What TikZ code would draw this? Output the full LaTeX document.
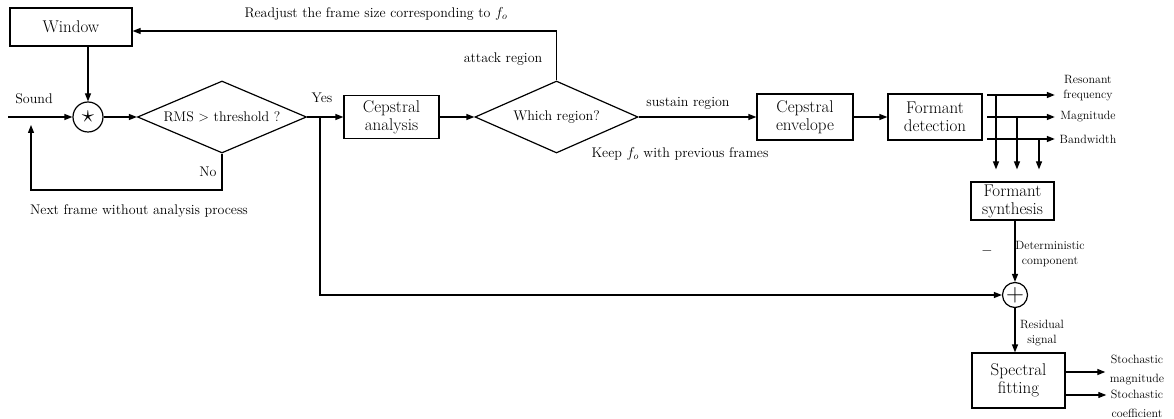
\documentclass[tikz,border=0pt]{standalone}
\usepackage{fontspec}
\usetikzlibrary{shapes.geometric,arrows.meta,calc}
\begin{document}
\begin{tikzpicture}[x=1pt,y=-1pt,line width=1.2pt,
  box/.style={draw,rectangle,inner sep=0pt,align=center,font=\fontsize{17}{18}\selectfont},
  dia/.style={draw,diamond,aspect=2.3,inner sep=0pt,font=\fontsize{14}{16}\selectfont},
  lbl/.style={inner sep=0pt,font=\fontsize{14}{16}\selectfont},
  sml/.style={inner sep=0pt,align=center,font=\fontsize{12}{15}\selectfont},
  sumc/.style={draw,circle,inner sep=0pt},
  arr/.style={-{Triangle[length=8pt,width=6pt]}}]
\useasboundingbox (0,0) rectangle (1174,419);

% blocks
\node[box,minimum width=122pt,minimum height=38pt] (win) at (71,27) {Window};
\node[sumc,minimum size=30pt,font=\fontsize{28}{28}\selectfont] (mult) at (88,117) {$\star$};
\node[dia,minimum width=169pt,minimum height=72pt] (rms) at (222,117) {RMS > threshold ?};
\node[box,minimum width=95pt,minimum height=43pt] (ca) at (391.5,117) {Cepstral\\analysis};
\node[dia,minimum width=163pt,minimum height=72pt] (wr) at (556.5,117) {Which region?};
\node[box,minimum width=96pt,minimum height=46pt] (ce) at (805,117) {Cepstral\\envelope};
\node[box,minimum width=94pt,minimum height=46pt] (fd) at (935,117) {Formant\\detection};
\node[box,minimum width=83pt,minimum height=38pt] (fs) at (1012.5,201) {Formant\\synthesis};
\node[sumc,minimum size=25pt,font=\fontsize{24}{24}\selectfont] (plus) at (1015,295) {$+$};
\node[box,minimum width=93pt,minimum height=55pt] (sf) at (1018.5,380.5) {Spectral\\fitting};

% labels
\node[lbl] (tsound) at (34,99) {Sound};
\node[lbl] (tyes) at (322,98) {Yes};
\node[lbl] (tno) at (208,172) {No};
\node[lbl] (tnext) at (139,211) {Next frame without analysis process};
\node[lbl] (tread) at (376,14) {Readjust the frame size corresponding to $f_o$};
\node[lbl] (tatt) at (503,59) {attack region};
\node[lbl] (tsus) at (688,103) {sustain region};
\node[lbl] (tkeep) at (680,154) {Keep $f_o$ with previous frames};
\node[sml] (tres) at (1088,88) {Resonant\\frequency};
\node[sml] (tmag) at (1088,117) {Magnitude};
\node[sml] (tbw) at (1088,139) {Bandwidth};
\node[sml,font=\fontsize{14}{14}\selectfont] (tminus) at (987,251) {$-$};
\node[sml] (tdet) at (1050,254) {Deterministic\\component};
\node[sml] (tresid) at (1042,333) {Residual\\signal};
\node[sml,font=\fontsize{12}{19}\selectfont] (tsm) at (1137,370) {Stochastic\\magnitude};
\node[sml,font=\fontsize{12}{19}\selectfont] (tsc) at (1137,404) {Stochastic\\coefficient};

% coordinates
\coordinate (snd) at (8,117);
\coordinate (noend) at (31,125);
\coordinate (nocorner) at (223,190);
\coordinate (yb) at (320,117);
\coordinate (o1) at (987,95);
\coordinate (o2) at (987,117);
\coordinate (o3) at (987,139);
\coordinate (b1) at (996,95);
\coordinate (b2) at (1017,117);
\coordinate (b3) at (1039,139);
\coordinate (s1) at (sf.east |- 0,372);
\coordinate (s2) at (sf.east |- 0,395);

% connectors
\draw[arr] (snd) -- (mult.west);
\draw[arr] (win.south -| mult.north) -- (mult.north);
\draw[arr] (mult.east) -- (rms.west);
\draw[arr] (rms.east) -- (ca.west);
\draw[arr] (rms.south) -- (rms.south |- nocorner) -| (noend);
\draw[arr] (yb) |- (plus.west);
\draw[arr] (ca.east) -- (wr.west);
\draw[arr] (wr.north) |- ([yshift=-4pt]win.east);
\draw[arr] (wr.east) -- (ce.west);
\draw[arr] (ce.east) -- (fd.west);
\draw[arr,shorten >=5pt] (o1) -- (o1 -| tmag.west);
\draw[arr,shorten >=5pt] (o2) -- (o2 -| tmag.west);
\draw[arr,shorten >=5pt] (o3) -- (o3 -| tmag.west);
\draw[arr,shorten >=12pt] (b1) -- (b1 |- fs.north);
\draw[arr,shorten >=12pt] (b2) -- (b2 |- fs.north);
\draw[arr,shorten >=12pt] (b3) -- (b3 |- fs.north);
\draw[arr] (fs.south -| plus.north) -- (plus.north);
\draw[arr] (plus.south) -- (plus.south |- sf.north);
\draw[arr,shorten >=4pt] (s1) -- (s1 -| tsm.west);
\draw[arr,shorten >=4pt] (s2) -- (s2 -| tsc.west);
\end{tikzpicture}
\end{document}
